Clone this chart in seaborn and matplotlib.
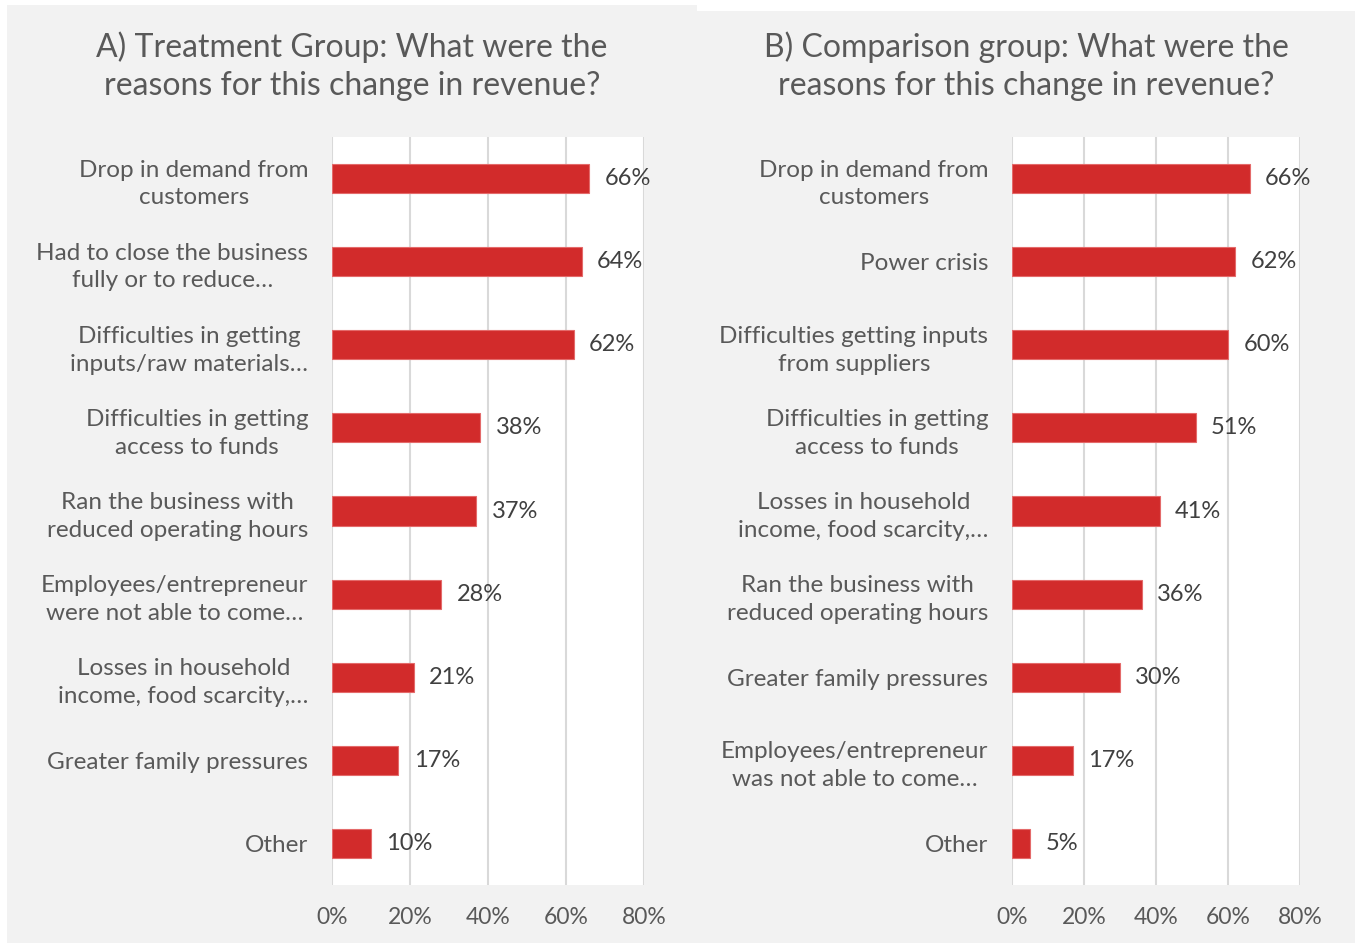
import matplotlib
matplotlib.use("Agg")
import matplotlib.pyplot as plt
import seaborn as sns
import pandas as pd
from matplotlib.patches import Rectangle

# Panel A: treatment group
treat_reasons = [
    "Drop in demand from\ncustomers",
    "Had to close the business\nfully or to reduce…",
    "Difficulties in getting\ninputs/raw materials…",
    "Difficulties in getting\naccess to funds",
    "Ran the business with\nreduced operating hours",
    "Employees/entrepreneur\nwere not able to come…",
    "Losses in household\nincome, food scarcity,…",
    "Greater family pressures",
    "Other",
]
treat_pct = [66, 64, 62, 38, 37, 28, 21, 17, 10]

# Panel B: comparison group
comp_reasons = [
    "Drop in demand from\ncustomers",
    "Power crisis",
    "Difficulties getting inputs\nfrom suppliers",
    "Difficulties in getting\naccess to funds",
    "Losses in household\nincome, food scarcity,…",
    "Ran the business with\nreduced operating hours",
    "Greater family pressures",
    "Employees/entrepreneur\nwas not able to come…",
    "Other",
]
comp_pct = [66, 62, 60, 51, 41, 36, 30, 17, 5]

x_ticks = [0, 20, 40, 60, 80]
x_tick_labels = ["0%", "20%", "40%", "60%", "80%"]

titles = [
    "A) Treatment Group: What were the\nreasons for this change in revenue?",
    "B) Comparison group: What were the\nreasons for this change in revenue?",
]

sns.set_theme(style="white")
plt.rcParams["font.family"] = ["Lato", "DejaVu Sans"]

BAR = "#d22b2b"
EDGE = "#e46a6a"
TEXT = "#595959"
VALUE = "#404040"
GRID = "#d9d9d9"
PANEL = "#f2f2f2"

W, H = 1355, 943
fig = plt.figure(figsize=(W / 100, H / 100), dpi=100)
fig.patch.set_facecolor("white")

# grey panel backgrounds
fig.add_artist(Rectangle((7 / W, 0), (697 - 7) / W, 1 - 5 / H,
                         transform=fig.transFigure, facecolor=PANEL,
                         edgecolor="none", zorder=-10))
fig.add_artist(Rectangle((697 / W, 0), (W - 697) / W, 1 - 11 / H,
                         transform=fig.transFigure, facecolor=PANEL,
                         edgecolor="none", zorder=-10))

bottom = 1 - 885 / H
height = (885 - 137) / H
ax_a = fig.add_axes([332 / W, bottom, (644 - 332) / W, height])
ax_b = fig.add_axes([1012 / W, bottom, (1300 - 1012) / W, height])

panels = [
    (ax_a, treat_reasons, treat_pct, titles[0], 352),
    (ax_b, comp_reasons, comp_pct, titles[1], 1026),
]

for ax, reasons, pct, title, title_x in panels:
    df = pd.DataFrame({"reason": reasons, "pct": pct})
    sns.barplot(data=df, x="pct", y="reason", orient="h", color=BAR,
                saturation=1, width=0.35, edgecolor=EDGE, linewidth=0.8,
                ax=ax, zorder=3)
    ax.set_facecolor("white")
    ax.set_xlim(0, 80)
    ax.set_ylim(len(reasons) - 0.5, -0.5)
    ax.set_xticks(x_ticks)
    ax.set_xticklabels(x_tick_labels)
    ax.set_xlabel("")
    ax.set_ylabel("")
    ax.grid(axis="x", color=GRID, linewidth=1.5, zorder=0)
    ax.set_axisbelow(True)
    for s in ax.spines.values():
        s.set_visible(False)
    ax.tick_params(axis="x", length=0, pad=16, labelsize=16.5, labelcolor=TEXT)
    ax.tick_params(axis="y", length=0, pad=17, labelsize=17.5, labelcolor=TEXT)
    for lbl in ax.get_yticklabels():
        lbl.set_multialignment("center")
        lbl.set_linespacing(1.4)
    ax.bar_label(ax.containers[0], labels=[f"{v}%" for v in pct],
                 padding=11, fontsize=17, color=VALUE)
    fig.text(title_x / W, 1 - 66 / H, title, ha="center", va="center",
             fontsize=23, color=TEXT, linespacing=1.35)

fig.savefig("out.png", dpi=100, facecolor=fig.get_facecolor())
